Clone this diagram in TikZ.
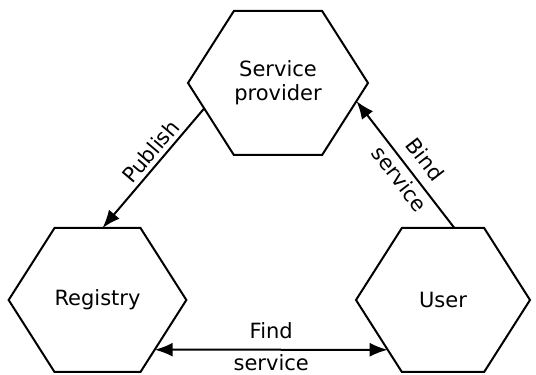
\documentclass[tikz,border=0pt]{standalone}
\usepackage{fontspec}
\setmainfont{DejaVu Sans}
\usepackage{tikz}
\usetikzlibrary{arrows.meta,shapes.symbols}

\begin{document}
\begin{tikzpicture}[x=1pt,y=1pt,
  every node/.style={font=\fontsize{21}{24}\selectfont},
  hexa/.style={draw, line width=2pt, signal, signal to=east and west,
    signal pointer angle=115, minimum width=180pt, minimum height=144pt,
    inner sep=0pt, outer sep=0pt, align=center},
  link/.style={line width=2pt, -{Latex[length=18pt,width=14pt]}},
  lbl/.style={inner sep=4pt}]
\useasboundingbox (0,0) rectangle (536,375);
% hexagons
\node[hexa] (sp) at (278,292) {Service\\provider};
\node[hexa, minimum width=176pt] (reg) at (97.5,75) {Registry};
\node[hexa, minimum width=174pt] (usr) at (443,75) {User};
% connectors
\draw[link] (sp.199) -- node[lbl, sloped, above, pos=0.43] {Publish} (reg.86);
\draw[link] (usr.81) -- node[lbl, sloped, above=6pt, pos=0.45] {Bind} node[lbl, sloped, below, pos=0.45] {service} (sp.347);
\draw[link, {Latex[length=18pt,width=14pt]}-{Latex[length=18pt,width=14pt]}] (reg.319) -- node[lbl, above=6pt] {Find} node[lbl, below] {service} (usr.222);
\end{tikzpicture}
\end{document}
